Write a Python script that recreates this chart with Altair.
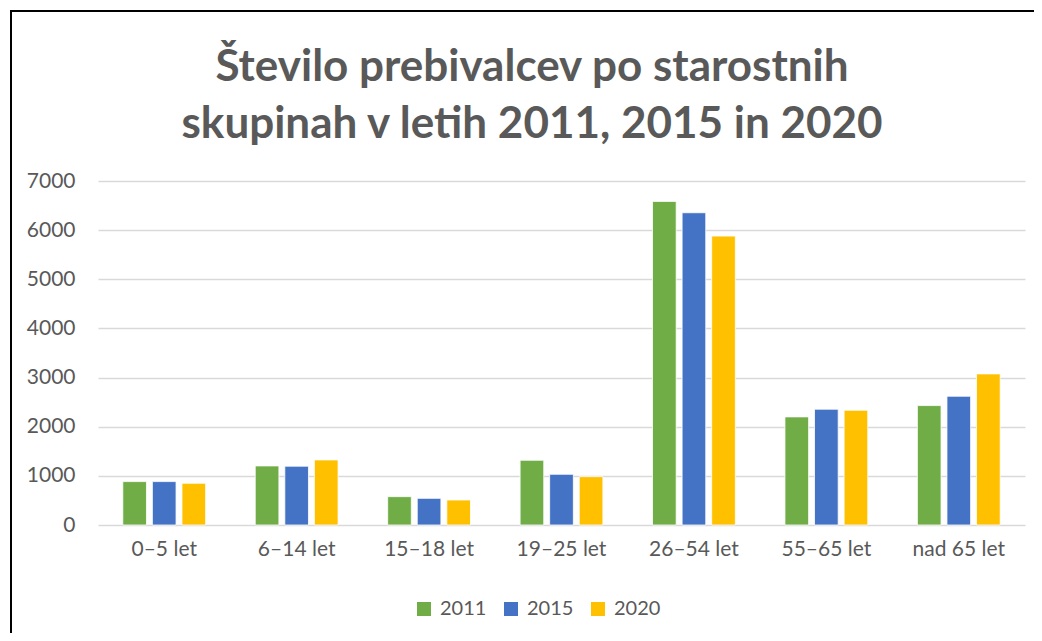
import altair as alt
import pandas as pd

categories = ["0–5 let", "6–14 let", "15–18 let", "19–25 let", "26–54 let", "55–65 let", "nad 65 let"]
years = ["2011", "2015", "2020"]
v2011 = [883, 1202, 577, 1317, 6585, 2200, 2430]
v2015 = [883, 1197, 543, 1032, 6354, 2356, 2620]
v2020 = [849, 1324, 509, 984, 5879, 2335, 3075]
colors = ["#70ad47", "#4472c4", "#ffc000"]
title_lines = ["Število prebivalcev po starostnih", "skupinah v letih 2011, 2015 in 2020"]

rows = []
for yr, vals in zip(years, [v2011, v2015, v2020]):
    for c, v in zip(categories, vals):
        rows.append({"Skupina": c, "Leto": yr, "Vrednost": v})
df = pd.DataFrame(rows)

FONT = "Lato"
TXT = "#595959"

bars = alt.Chart(df).mark_bar(stroke="white", strokeWidth=0.8).encode(
    x=alt.X("Skupina:N", sort=categories, title=None,
            scale=alt.Scale(paddingInner=0.33, paddingOuter=0.165),
            axis=alt.Axis(labelAngle=0, labelFontSize=21, labelColor=TXT, labelFont=FONT,
                          labelPadding=13, ticks=False, domain=False)),
    xOffset=alt.XOffset("Leto:N", sort=years,
                        scale=alt.Scale(paddingInner=0.2, paddingOuter=0.1)),
    y=alt.Y("Vrednost:Q", title=None,
            scale=alt.Scale(domain=[0, 7000], nice=False),
            axis=alt.Axis(values=[0, 1000, 2000, 3000, 4000, 5000, 6000, 7000], format="d",
                          labelFontSize=21, labelColor=TXT, labelFont=FONT,
                          labelPadding=23, ticks=False, domain=False,
                          gridColor="#d9d9d9", gridWidth=1.5)),
    color=alt.Color("Leto:N", sort=years,
                    scale=alt.Scale(domain=years, range=colors),
                    legend=alt.Legend(title=None, orient="none", direction="horizontal",
                                      legendX=316, legendY=418,
                                      symbolType="square", symbolSize=196,
                                      symbolStrokeWidth=0,
                                      labelFontSize=20, labelColor=TXT, labelFont=FONT,
                                      columnPadding=14, labelOffset=6)),
)

one = pd.DataFrame({"a": [0]})
title1 = alt.Chart(one).mark_text(
    text=title_lines[0], font=FONT, fontSize=44, fontWeight="bold", color=TXT,
    align="center", baseline="alphabetic",
).encode(x=alt.value(434), y=alt.value(-100))
title2 = alt.Chart(one).mark_text(
    text=title_lines[1], font=FONT, fontSize=44, fontWeight="bold", color=TXT,
    align="center", baseline="alphabetic",
).encode(x=alt.value(434), y=alt.value(-43))

border = alt.Chart(one).mark_rule(color="#000000", strokeWidth=2).encode(
    x=alt.value(-87), x2=alt.value(940), y=alt.value(-170), y2=alt.value(-170)
)
border2 = alt.Chart(one).mark_rule(color="#000000", strokeWidth=2).encode(
    x=alt.value(-87), x2=alt.value(-87), y=alt.value(-171), y2=alt.value(470)
)

chart = alt.layer(bars, title1, title2, border, border2).properties(
    width=927,
    height=344,
    padding={"left": 90, "top": 173, "right": 9, "bottom": 108},
    autosize=alt.AutoSizeParams(type="none"),
).configure_view(stroke=None)

chart.save("out.html", embed_options={"renderer": "svg", "actions": False})
